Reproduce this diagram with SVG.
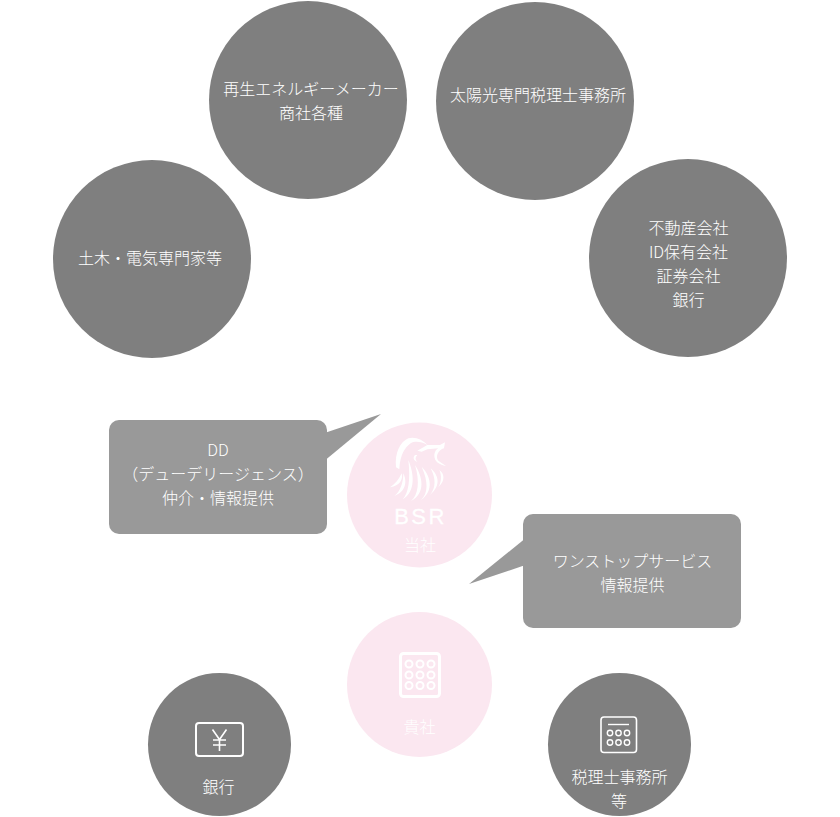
<svg xmlns="http://www.w3.org/2000/svg" width="840" height="817" viewBox="0 0 840 817">
<style>
.d{fill:#7f7f7f}.p{fill:#fbe7f0}.b{fill:#999}
text{font-family:"Noto Sans CJK JP","Noto Sans",sans-serif;font-size:16px;font-weight:300;fill:#fff;text-anchor:middle}
.i{fill:none;stroke:#fff}
</style>
<rect width="840" height="817" fill="#fff"/>
<g id="node-saiene"><circle class="d" cx="308" cy="100" r="99"/><text x="311" y="95">再生エネルギーメーカー</text><text x="311" y="119">商社各種</text></g>
<g id="node-zeirishi-top"><circle class="d" cx="535" cy="101" r="99"/><text x="538" y="101">太陽光専門税理士事務所</text></g>
<g id="node-doboku"><circle class="d" cx="152" cy="259" r="99"/><text x="150" y="264">土木・電気専門家等</text></g>
<g id="node-fudosan"><circle class="d" cx="688" cy="258" r="99"/><text x="688.500" y="234">不動産会社</text><text x="688.500" y="258">ID保有会社</text><text x="688.500" y="282">証券会社</text><text x="688.500" y="306">銀行</text></g>
<g id="node-tosha"><circle class="p" cx="419.500" cy="495" r="72.500"/>
<g fill="#fff" transform="translate(340 410) scale(.3333)">
<path d="M168 172C164 130 180 95 205 85C225 79 250 90 262 105C245 95 225 92 212 100C195 112 180 135 178 178Z"/>
<path d="M150 232C165 222 178 207 185 190C190 207 180 228 150 232Z"/>
<path d="M163 258C182 245 190 215 190 190C202 215 198 245 163 258Z"/>
<path d="M188 268C205 250 212 210 205 150C222 190 228 245 188 268Z"/>
<path d="M213 273C235 255 240 215 225 165C248 200 258 250 213 273Z"/>
<path d="M243 270C265 250 265 215 245 170C270 195 285 240 243 270Z"/>
<path d="M270 255C288 235 288 205 272 175C295 195 305 225 270 255Z"/>
<path d="M295 232C305 215 305 195 298 180C312 190 318 210 295 232Z"/>
<path d="M232 122L262 105L300 105L315 97L312 115C295 120 285 140 295 152L318 168C300 165 282 155 283 135C285 122 290 118 295 115L262 118L245 125Z"/>
<path d="M225 135C218 142 220 152 232 155C225 150 225 142 232 135Z"/>
</g>
<text x="420.500" y="524" style="font-family:'Liberation Sans',sans-serif;font-size:22px;font-weight:400;letter-spacing:2.500px;stroke:#fff;stroke-width:.3">BSR</text>
<text x="420" y="551">当社</text></g>
<g id="node-kisha"><circle class="p" cx="419.500" cy="684.500" r="72.500"/>
<rect class="i" x="400.500" y="653.500" width="39" height="43" rx="3" stroke-width="3"/>
<g class="i" stroke-width="2"><circle cx="409" cy="664" r="3.500"/><circle cx="420" cy="664" r="3.500"/><circle cx="431" cy="664" r="3.500"/><circle cx="409" cy="675" r="3.500"/><circle cx="420" cy="675" r="3.500"/><circle cx="431" cy="675" r="3.500"/><circle cx="409" cy="685.500" r="3.500"/><circle cx="420" cy="685.500" r="3.500"/><circle cx="431" cy="685.500" r="3.500"/></g>
<text x="419.500" y="733">貴社</text></g>
<g id="node-ginko"><circle class="d" cx="219.500" cy="744.500" r="71.500"/>
<rect class="i" x="196" y="723" width="47" height="33" rx="3" stroke-width="2"/>
<path class="i" stroke-width="1.600" d="M212.500 729.500L219.500 739.500L226.500 729.500M219.500 739.500V751M213 740H226M213 745H226"/>
<text x="218.500" y="793">銀行</text></g>
<g id="node-zeirishi"><circle class="d" cx="619.500" cy="744.500" r="71.500"/>
<rect class="i" x="601" y="717" width="35.500" height="35.500" rx="3" stroke-width="1.600"/>
<path class="i" stroke-width="1.400" d="M608 724.500H629"/>
<g class="i" stroke-width="1.400"><circle cx="610" cy="733" r="2.700"/><circle cx="618.500" cy="733" r="2.700"/><circle cx="627" cy="733" r="2.700"/><circle cx="610" cy="742.500" r="2.700"/><circle cx="618.500" cy="742.500" r="2.700"/><circle cx="627" cy="742.500" r="2.700"/></g>
<text x="619.500" y="783">税理士事務所</text><text x="619" y="807">等</text></g>
<g id="connectors">
<g id="bubble-dd"><rect class="b" x="109" y="420" width="218" height="114" rx="10"/><path class="b" d="M326 432.500L381 414L326 459.500Z"/><text x="218" y="456">DD</text><text x="218" y="480">（デューデリージェンス）</text><text x="218" y="504">仲介・情報提供</text></g>
<g id="bubble-onestop"><rect class="b" x="523" y="514" width="218" height="114" rx="10"/><path class="b" d="M524 539.500L469 584L524 565.500Z"/><text x="632.500" y="567">ワンストップサービス</text><text x="632.500" y="591">情報提供</text></g>
</g>
</svg>
